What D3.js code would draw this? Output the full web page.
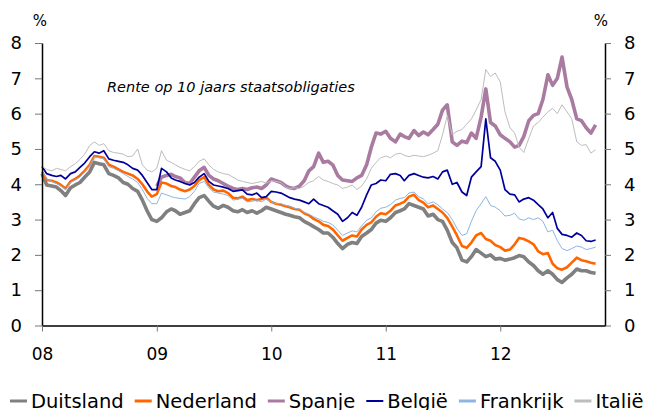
<!DOCTYPE html>
<html lang="nl">
<head>
<meta charset="UTF-8">
<title>Rente op 10 jaars staatsobligaties</title>
<style>
  body { margin: 0; background: #fff; }
  svg text { font-family: "DejaVu Sans", Verdana, sans-serif; fill: #000; }
</style>
</head>
<body>
<div id="chart"></div>
<script src="https://d3js.org/d3.v7.min.js"></script>
<script>
// half-monthly observations, Jan 2008 - Oct 2012
const dates = [
  "2008-01-01","2008-01-16","2008-02-01","2008-02-16","2008-03-01","2008-03-16","2008-04-01","2008-04-16","2008-05-01","2008-05-16","2008-06-01","2008-06-16",
  "2008-07-01","2008-07-16","2008-08-01","2008-08-16","2008-09-01","2008-09-16","2008-10-01","2008-10-16","2008-11-01","2008-11-16","2008-12-01","2008-12-16",
  "2009-01-01","2009-01-16","2009-02-01","2009-02-16","2009-03-01","2009-03-16","2009-04-01","2009-04-16","2009-05-01","2009-05-16","2009-06-01","2009-06-16",
  "2009-07-01","2009-07-16","2009-08-01","2009-08-16","2009-09-01","2009-09-16","2009-10-01","2009-10-16","2009-11-01","2009-11-16","2009-12-01","2009-12-16",
  "2010-01-01","2010-01-16","2010-02-01","2010-02-16","2010-03-01","2010-03-16","2010-04-01","2010-04-16","2010-05-01","2010-05-16","2010-06-01","2010-06-16",
  "2010-07-01","2010-07-16","2010-08-01","2010-08-16","2010-09-01","2010-09-16","2010-10-01","2010-10-16","2010-11-01","2010-11-16","2010-12-01","2010-12-16",
  "2011-01-01","2011-01-16","2011-02-01","2011-02-16","2011-03-01","2011-03-16","2011-04-01","2011-04-16","2011-05-01","2011-05-16","2011-06-01","2011-06-16",
  "2011-07-01","2011-07-16","2011-08-01","2011-08-16","2011-09-01","2011-09-16","2011-10-01","2011-10-16","2011-11-01","2011-11-16","2011-12-01","2011-12-16",
  "2012-01-01","2012-01-16","2012-02-01","2012-02-16","2012-03-01","2012-03-16","2012-04-01","2012-04-16","2012-05-01","2012-05-16","2012-06-01","2012-06-16",
  "2012-07-01","2012-07-16","2012-08-01","2012-08-16","2012-09-01","2012-09-16","2012-10-01","2012-10-16","2012-10-31"
];

const duitsland = [
  4.30,3.98,3.95,3.92,3.82,3.68,3.90,3.98,4.05,4.20,4.35,4.62,4.58,4.55,4.30,4.25,4.18,4.05,4.00,3.88,3.80,3.55,3.25,3.00,
  2.95,3.05,3.22,3.30,3.25,3.15,3.20,3.25,3.45,3.62,3.68,3.52,3.38,3.32,3.40,3.35,3.25,3.22,3.28,3.20,3.25,3.18,3.25,3.35,
  3.30,3.25,3.20,3.15,3.12,3.08,3.05,2.95,2.88,2.80,2.72,2.62,2.62,2.50,2.32,2.18,2.30,2.35,2.32,2.52,2.62,2.72,2.90,2.98,
  2.95,3.05,3.20,3.25,3.30,3.45,3.40,3.35,3.30,3.10,3.15,3.00,2.95,2.70,2.35,2.20,1.85,1.80,1.95,2.15,2.05,1.95,2.00,1.88,
  1.90,1.85,1.88,1.92,1.98,1.95,1.80,1.70,1.55,1.45,1.55,1.45,1.30,1.22,1.35,1.45,1.60,1.55,1.55,1.50,1.48
];
const nederland = [
  4.35,4.12,4.10,4.05,3.98,3.88,4.08,4.15,4.25,4.38,4.55,4.80,4.78,4.75,4.55,4.50,4.42,4.35,4.30,4.25,4.15,4.00,3.80,3.65,
  3.72,4.05,4.02,3.95,3.92,3.85,3.80,3.85,3.95,4.12,4.20,3.98,3.85,3.80,3.82,3.75,3.62,3.60,3.65,3.55,3.58,3.55,3.58,3.62,
  3.50,3.45,3.42,3.38,3.35,3.30,3.28,3.18,3.12,3.02,2.95,2.85,2.82,2.72,2.55,2.40,2.48,2.55,2.52,2.72,2.85,2.92,3.08,3.18,
  3.15,3.25,3.40,3.45,3.50,3.65,3.70,3.55,3.48,3.35,3.40,3.30,3.20,3.05,2.80,2.55,2.25,2.20,2.35,2.55,2.62,2.45,2.40,2.28,
  2.22,2.12,2.15,2.30,2.48,2.45,2.38,2.30,2.10,2.02,2.05,1.75,1.62,1.58,1.65,1.78,1.92,1.85,1.82,1.78,1.75
];
const spanje = [
  null,null,null,null,null,null,null,null,null,null,null,null,null,null,null,null,null,null,null,null,null,null,null,null,
  3.95,4.20,4.25,4.28,4.22,4.18,4.05,4.02,4.20,4.38,4.48,4.25,4.15,4.10,4.02,3.95,3.88,3.85,3.88,3.85,3.90,3.92,3.88,3.98,
  4.15,4.10,4.05,3.95,3.90,3.88,3.95,4.10,4.38,4.50,4.88,4.62,4.65,4.55,4.25,4.12,4.10,4.08,4.18,4.25,4.55,5.05,5.45,5.42,
  5.50,5.30,5.20,5.42,5.35,5.30,5.52,5.38,5.48,5.40,5.55,5.70,6.10,6.25,5.20,5.10,5.22,5.18,5.45,5.30,5.90,6.70,5.75,5.65,
  5.40,5.30,5.20,5.05,5.10,5.35,5.80,5.95,6.00,6.40,7.10,6.80,7.00,7.60,6.75,6.40,5.85,5.80,5.60,5.45,5.68
];
const belgie = [
  4.50,4.30,4.25,4.22,4.25,4.15,4.30,4.35,4.48,4.60,4.78,4.92,4.88,4.95,4.72,4.68,4.65,4.62,4.55,4.45,4.40,4.25,4.05,3.85,
  3.85,4.45,4.35,4.18,4.12,4.08,4.02,3.98,4.05,4.20,4.30,4.08,3.98,3.95,3.92,3.88,3.80,3.82,3.84,3.72,3.70,3.75,3.62,3.65,
  3.80,3.78,3.75,3.68,3.62,3.58,3.55,3.50,3.45,3.58,3.45,3.40,3.35,3.25,3.15,2.95,3.05,3.20,3.12,3.35,3.70,3.98,4.02,4.12,
  4.10,4.28,4.30,4.25,4.10,4.25,4.30,4.25,4.20,4.18,4.22,4.15,4.35,4.40,4.00,4.05,3.78,3.68,4.20,4.35,4.50,5.85,4.75,4.65,
  4.40,3.85,3.72,3.70,3.50,3.58,3.62,3.55,3.42,3.30,3.05,3.20,2.75,2.58,2.55,2.50,2.62,2.55,2.40,2.38,2.42
];
const frankrijk = [
  4.38,4.15,4.08,4.02,3.95,3.85,4.05,4.12,4.20,4.35,4.52,4.78,4.75,4.72,4.50,4.45,4.38,4.30,4.22,4.15,4.05,3.85,3.60,3.45,
  3.45,3.75,3.70,3.65,3.62,3.60,3.58,3.65,3.80,4.02,4.08,3.90,3.78,3.75,3.72,3.68,3.55,3.58,3.60,3.50,3.52,3.55,3.50,3.58,
  3.50,3.45,3.45,3.40,3.38,3.32,3.30,3.20,3.15,3.08,3.02,2.95,2.92,2.85,2.70,2.55,2.62,2.68,2.65,2.82,2.98,3.05,3.22,3.32,
  3.35,3.42,3.55,3.60,3.62,3.75,3.78,3.65,3.58,3.45,3.50,3.42,3.30,3.20,3.00,2.75,2.55,2.60,2.95,3.25,3.45,3.65,3.40,3.35,
  3.25,3.10,3.12,3.18,3.02,2.98,3.05,3.00,3.05,2.95,2.65,2.70,2.40,2.18,2.12,2.18,2.25,2.22,2.15,2.18,2.22
];
const italie = [
  4.50,4.42,4.38,4.45,4.42,4.38,4.50,4.58,4.70,4.85,5.10,5.20,5.10,5.15,4.95,4.90,4.88,4.85,4.78,4.80,5.00,4.55,4.40,4.35,
  4.45,4.95,4.68,4.62,4.55,4.48,4.42,4.38,4.50,4.65,4.72,4.55,4.42,4.35,4.30,4.28,4.20,4.12,4.08,4.05,4.02,4.05,4.08,4.03,
  4.10,4.08,4.05,3.92,3.88,3.90,3.88,3.95,4.05,4.10,4.22,4.12,4.08,4.02,3.98,3.88,3.92,3.98,3.85,3.95,4.15,4.45,4.62,4.75,
  4.80,4.75,4.85,4.88,4.82,4.78,4.82,4.80,4.78,4.82,4.88,4.95,5.40,5.95,5.40,5.50,5.55,5.70,5.85,6.10,6.40,7.25,7.05,7.15,
  6.90,6.05,5.60,5.45,5.05,4.90,5.30,5.65,5.75,5.90,6.05,6.15,6.00,6.25,6.05,5.85,5.20,5.10,5.12,4.88,4.98
];

const seriesNames = ["Duitsland", "Nederland", "Spanje", "België", "Frankrijk", "Italië"];
const seriesValues = [duitsland, nederland, spanje, belgie, frankrijk, italie];
const seriesColors = ["#808080", "#ff6600", "#a97ba0", "#000099", "#8eb4e3", "#bdbdbd"];
const seriesWidths = [3.6, 2.6, 3.6, 1.7, 1, 1];

const yTicks = [0, 1, 2, 3, 4, 5, 6, 7, 8];
const yearTicks = ["2008-01-01", "2009-01-01", "2010-01-01", "2011-01-01", "2012-01-01"];
const xDomain = ["2008-01-01", "2012-11-30"];
const title = "Rente op 10 jaars staatsobligaties";

const width = 652, height = 410;
const parse = d3.timeParse("%Y-%m-%d");

const svg = d3.select("#chart").append("svg")
    .attr("width", width)
    .attr("height", height);

const x = d3.scaleTime().domain(xDomain.map(parse)).range([42, 605]);
const y = d3.scaleLinear().domain([0, 8]).range([325.5, 43]);

// series lines, drawn in legend order
const line = d3.line()
    .defined(d => d.v != null)
    .x(d => x(d.date))
    .y(d => y(d.v));

seriesNames.forEach((name, k) => {
    const pts = dates.map((s, i) => ({ date: parse(s), v: seriesValues[k][i] }));
    svg.append("path")
        .datum(pts)
        .attr("fill", "none")
        .attr("stroke", seriesColors[k])
        .attr("stroke-width", seriesWidths[k])
        .attr("stroke-linejoin", "round")
        .attr("d", line);
});

// axes
const left = svg.append("g")
    .attr("transform", "translate(42,0)")
    .call(d3.axisLeft(y).tickValues(yTicks).tickSize(7).tickSizeOuter(0).tickPadding(13));

const right = svg.append("g")
    .attr("transform", "translate(605,0)")
    .call(d3.axisRight(y).tickValues(yTicks).tickSize(6).tickSizeOuter(0).tickPadding(13));

const bottom = svg.append("g")
    .attr("transform", "translate(0,325.5)")
    .call(d3.axisBottom(x).tickValues(yearTicks.map(parse))
        .tickFormat(d3.timeFormat("%y")).tickSize(6).tickSizeOuter(0).tickPadding(16));

[left, right].forEach(g => {
    g.select(".domain").attr("stroke", "#000").attr("stroke-width", 1.5);
    g.selectAll(".tick line").attr("stroke", "#777");
    g.selectAll(".tick text").style("font-size", "18px").attr("font-family", null);
});
bottom.select(".domain").attr("stroke", "#000").attr("stroke-width", 1.5);
bottom.selectAll(".tick line").attr("stroke", "#777");
bottom.selectAll(".tick text").style("font-size", "17px").attr("font-family", null);

// unit labels
svg.append("text").attr("x", 40).attr("y", 26).attr("text-anchor", "middle")
    .style("font-size", "15px").text("%");
svg.append("text").attr("x", 601).attr("y", 26).attr("text-anchor", "middle")
    .style("font-size", "15px").text("%");

// title inside plot
svg.append("text").attr("x", 107).attr("y", 92)
    .style("font-size", "14.5px").style("font-style", "italic")
    .text(title);

// legend along the bottom
const legend = svg.append("g").attr("transform", "translate(10,403)");
let lx = 0;
seriesNames.forEach((name, k) => {
    legend.append("line")
        .attr("x1", lx).attr("x2", lx + 17)
        .attr("y1", -2).attr("y2", -2)
        .attr("stroke", seriesColors[k])
        .attr("stroke-width", k === 3 ? 2 : 3);
    const t = legend.append("text")
        .attr("x", lx + 21).attr("y", 5)
        .style("font-size", "19.5px")
        .text(name);
    lx += 21 + t.node().getComputedTextLength() + 11;
});
</script>
</body>
</html>
